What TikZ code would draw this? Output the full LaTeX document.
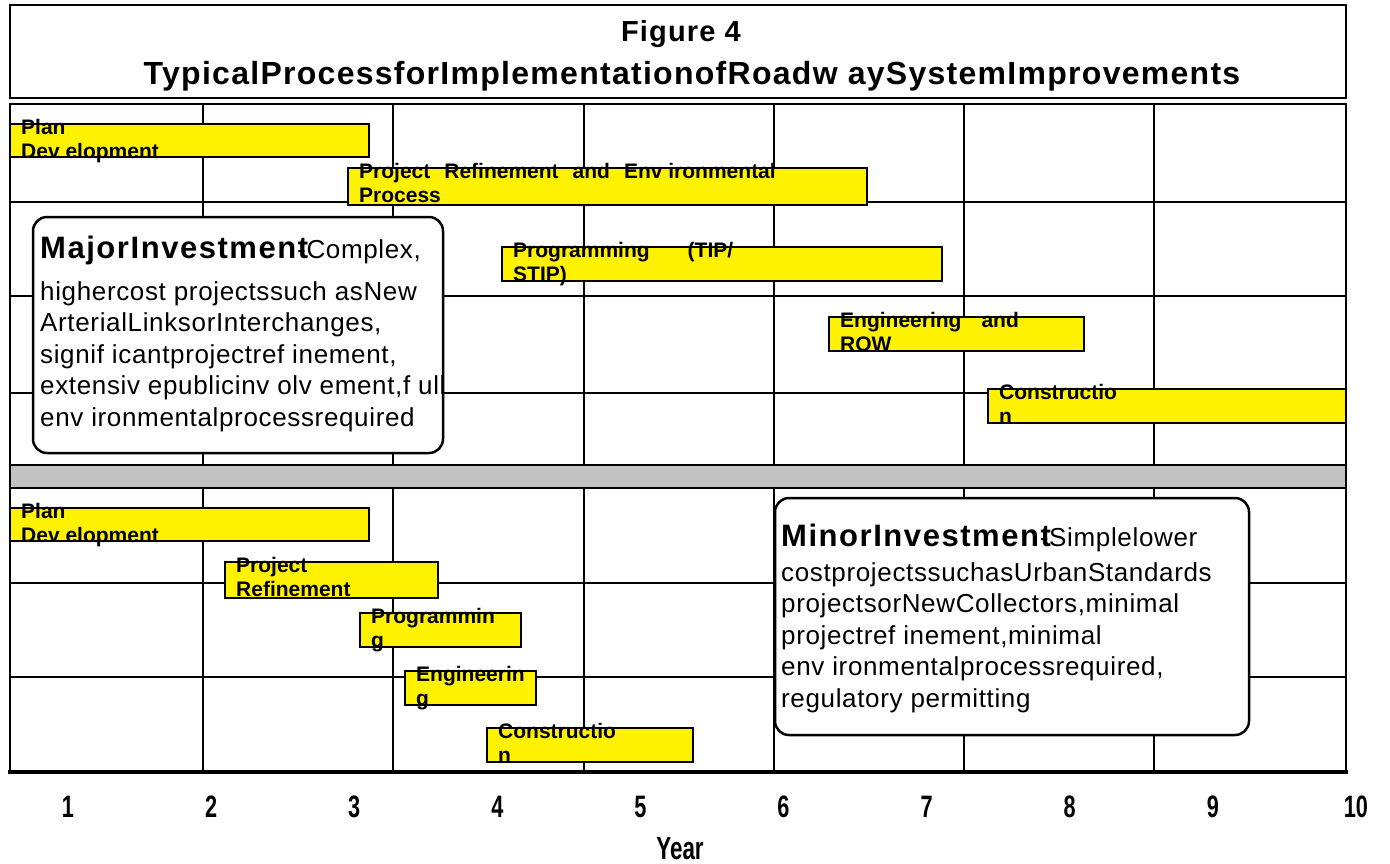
\documentclass[tikz,border=0pt]{standalone}
\usepackage{graphicx}
\usepackage{fontspec}
\setmainfont{Liberation Sans}
\newfontfamily\titlefont[LetterSpace=4]{Liberation Sans}
\newfontfamily\boxbodyfont[LetterSpace=2.5]{Liberation Sans}
\newfontfamily\boxboldfont[LetterSpace=5]{Liberation Sans}
\newcommand{\bodyf}{\boxbodyfont\fontsize{26}{26}\selectfont}
\newcommand{\headf}{\boxboldfont\bfseries\fontsize{31}{31}\selectfont}
\newcommand{\gbar}[7]{%
  \node[barbox, anchor=north west, minimum width={#4-#2}, minimum height={#5-#3}] (#1) at (#2,#3) {};
  \node[barlbl] (#1-a) at ([xshift=11pt,yshift=-10pt]#1.north west) {#6};
  \node[barlbl] (#1-b) at ([xshift=11pt,yshift=-34pt]#1.north west) {#7};
}
\tikzset{
  gridline/.style={line width=2pt},
  frameline/.style={line width=2.5pt},
  barbox/.style={draw=black, fill=yellow, line width=2.5pt, inner sep=0pt, outer sep=0pt},
  barlbl/.style={anchor=base west, inner sep=0pt, font=\fontsize{21}{21}\selectfont\bfseries},
  infobox/.style={draw=black, fill=white, rounded corners=14pt, line width=2.5pt, inner sep=0pt, outer sep=0pt},
  boxtxt/.style={anchor=base west, inner sep=0pt},
  axislbl/.style={anchor=base, inner sep=0pt, font=\fontsize{31}{31}\selectfont\bfseries},
}
\begin{document}
\begin{tikzpicture}[x=1pt,y=-1pt]
\useasboundingbox (0,0) rectangle (1390,863);
\fill[white] (0,0) rectangle (1390,863);
% title
\node[draw=black, line width=2.5pt, anchor=north west, minimum width=1336, minimum height=93, inner sep=0pt, outer sep=0pt] (titlebox) at (10,5) {};
\node[anchor=base, inner sep=0pt] (title1) at (681,41) {\titlefont\bfseries\fontsize{29}{29}\selectfont Figure 4};
\node[anchor=base, inner sep=0pt] (title2) at (692,84) {\titlefont\bfseries\fontsize{32}{32}\selectfont TypicalProcessforImplementationofRoadw aySystemImprovements};
% gray band
\fill[black!24] (10,465) rectangle (1346,488);
% grid lines
\foreach \xx in {203,393,584,774,964,1154} {
  \draw[gridline] (\xx,104) -- (\xx,465);
  \draw[gridline] (\xx,488) -- (\xx,772);
}
\foreach \yy in {202,296,393,583,677} {
  \draw[gridline] (10,\yy) -- (1346,\yy);
}
\draw[frameline] (10,465) -- (1346,465);
\draw[frameline] (10,488) -- (1346,488);
\draw[frameline] (10,772) -- (10,104) -- (1346,104) -- (1346,772);
\draw[line width=4pt] (8,772) -- (1348,772);
% info boxes
\node[infobox, anchor=north west, minimum width=410, minimum height=236] (major) at (33,217) {};
\node[infobox, anchor=north west, minimum width=474, minimum height=237] (minor) at (775,498) {};
\node[boxtxt] (ma1) at (40,258) {{\headf MajorInvestment}\kern-11pt{\bodyf-Complex,}};
\node[boxtxt] (ma2) at (40,300) {\bodyf highercost projectssuch asNew};
\node[boxtxt] (ma3) at (40,331.5) {\bodyf ArterialLinksorInterchanges,};
\node[boxtxt] (ma4) at (40,363) {\bodyf signif icantprojectref inement,};
\node[boxtxt] (ma5) at (40,394.5) {\bodyf extensiv epublicinv olv ement,f ull};
\node[boxtxt] (ma6) at (40,426) {\bodyf env ironmentalprocessrequired};
\node[boxtxt] (mi1) at (781,546) {{\headf MinorInvestment}\kern-11pt{\bodyf-Simplelower}};
\node[boxtxt] (mi2) at (781,581) {\bodyf costprojectssuchasUrbanStandards};
\node[boxtxt] (mi3) at (781,612.5) {\bodyf projectsorNewCollectors,minimal};
\node[boxtxt] (mi4) at (781,644) {\bodyf projectref inement,minimal};
\node[boxtxt] (mi5) at (781,675.5) {\bodyf env ironmentalprocessrequired,};
\node[boxtxt] (mi6) at (781,707) {\bodyf regulatory permitting};
% bars: major
\gbar{tpd}{10}{124}{369}{157}{Plan}{Dev elopment}
\gbar{tpr}{348}{168}{867}{205}{Project\hspace{14pt}Refinement\hspace{14pt}and\hspace{14pt}Env ironmental}{Process}
\gbar{tpg}{502}{247}{942}{281}{Programming\hspace{38pt}(TIP/}{STIP)}
\gbar{ten}{829}{317}{1084}{351}{Engineering\hspace{20pt}and}{ROW}
\gbar{tco}{988}{389}{1346}{423}{Constructio}{n}
% bars: minor
\gbar{bpd}{10}{508}{369}{541}{Plan}{Dev elopment}
\gbar{bpr}{225}{562}{438}{598}{Project}{Refinement}
\gbar{bpg}{360}{613}{521}{647}{Programmin}{g}
\gbar{ben}{405}{671}{536}{705}{Engineerin}{g}
\gbar{bco}{487}{728}{693}{762}{Constructio}{n}
% axis
\foreach \i in {1,...,10} {
  \node[axislbl] (yr\i) at ({68+143.1*(\i-1)},817) {\scalebox{0.7}[1]{\i}};
}
\node[anchor=base, inner sep=0pt] (year) at (680,859) {\fontsize{32}{32}\selectfont\bfseries\scalebox{0.7}[1]{Year}};
\end{tikzpicture}
\end{document}
